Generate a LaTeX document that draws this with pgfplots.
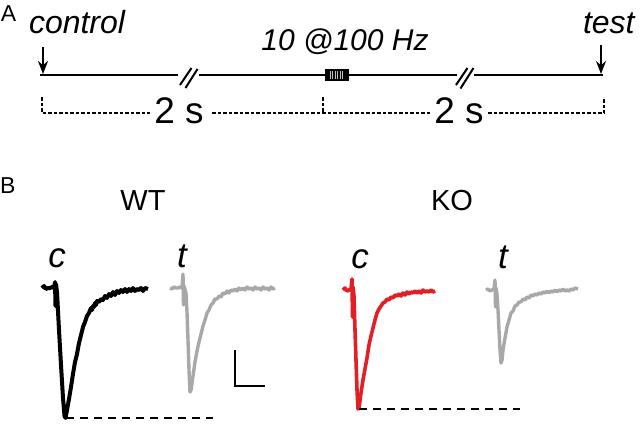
\documentclass[border=0pt]{standalone}
\usepackage{pgfplots}
\pgfplotsset{compat=1.18}
\usepackage{fontspec}
\setmainfont{Liberation Sans}
\usetikzlibrary{arrows.meta}
\definecolor{kored}{RGB}{228,30,38}
\definecolor{tgray}{RGB}{168,168,168}
\tikzset{lbl/.style={inner sep=0pt, outer sep=0pt}}
\begin{document}
\begin{tikzpicture}
\begin{axis}[
  width=640pt, height=424pt, scale only axis,
  xmin=0, xmax=640, ymin=0, ymax=424, y dir=reverse,
  hide axis, clip=false,
]
% invisible frame for bounding box
\addplot[draw=none] coordinates {(0,0) (640,424)};

% ---------------- Panel A ----------------
\node[lbl, anchor=base west, font=\fontsize{23}{26}\selectfont] at (axis cs:1,21) {A};
\node[lbl, anchor=base west, font=\fontsize{32}{34}\selectfont\itshape] at (axis cs:29,33) {control};
\node[lbl, anchor=base, font=\fontsize{30}{32}\selectfont\itshape] at (axis cs:345,50) {10 @100 Hz};
\node[lbl, anchor=base west, font=\fontsize{32}{34}\selectfont\itshape] at (axis cs:583,33) {test};

% arrows
\addplot[black, line width=1.8pt, -{Stealth[length=13pt,width=10pt]}] coordinates {(43,47) (43,74)};
\addplot[black, line width=1.8pt, -{Stealth[length=13pt,width=10pt]}] coordinates {(601,45) (601,74)};

% timeline
\addplot[black, line width=2pt] coordinates {(40,75) (178,75)};
\addplot[black, line width=2pt] coordinates {(180,85) (191.5,68)};
\addplot[black, line width=2pt] coordinates {(185.5,88) (197.5,69)};
\addplot[black, line width=2pt] coordinates {(199,75) (325,75)};
\addplot[black, line width=2pt] coordinates {(348,75) (457,75)};
\addplot[black, line width=2pt] coordinates {(456,85) (467.5,68)};
\addplot[black, line width=2pt] coordinates {(460.5,88.5) (473.5,68)};
\addplot[black, line width=2pt] coordinates {(474,75) (603,75)};

% stimulus train block
\addplot[fill=black, draw=black, line width=0.6pt] coordinates {(325,69.5) (348,69.5) (348,80.5) (325,80.5)} -- cycle;
\addplot[gray!50, line width=0.4pt] coordinates {(330,71) (330,79)};
\addplot[gray!50, line width=0.4pt] coordinates {(332.5,71) (332.5,79)};
\addplot[gray!50, line width=0.4pt] coordinates {(335,71) (335,79)};
\addplot[gray!50, line width=0.4pt] coordinates {(337.5,71) (337.5,79)};
\addplot[gray!50, line width=0.4pt] coordinates {(340,71) (340,79)};
\addplot[gray!50, line width=0.4pt] coordinates {(342.5,71) (342.5,79)};

% dashed brackets
\addplot[black, line width=1.5pt, dash pattern=on 3.5pt off 2pt] coordinates {(42,97) (42,113) (150,113)};
\addplot[black, line width=1.5pt, dash pattern=on 3.5pt off 2pt] coordinates {(212,113) (430,113)};
\addplot[black, line width=1.5pt, dash pattern=on 3.5pt off 2pt] coordinates {(323,97) (323,113)};
\addplot[black, line width=1.5pt, dash pattern=on 3.5pt off 2pt] coordinates {(488,113) (604,113) (604,97)};
\node[lbl, anchor=base, font=\fontsize{37}{40}\selectfont] at (axis cs:179,123) {2 s};
\node[lbl, anchor=base, font=\fontsize{37}{40}\selectfont] at (axis cs:459,123) {2 s};

% ---------------- Panel B ----------------
\node[lbl, anchor=base west, font=\fontsize{23}{26}\selectfont] at (axis cs:0,193) {B};
\node[lbl, anchor=base, font=\fontsize{29}{31}\selectfont] at (axis cs:143,210) {WT};
\node[lbl, anchor=base, font=\fontsize{29}{31}\selectfont] at (axis cs:452,210) {KO};
\node[lbl, anchor=base, font=\fontsize{35}{37}\selectfont\itshape] at (axis cs:57,267) {c};
\node[lbl, anchor=base, font=\fontsize{35}{37}\selectfont\itshape] at (axis cs:182,267) {t};
\node[lbl, anchor=base, font=\fontsize{35}{37}\selectfont\itshape] at (axis cs:360,268) {c};
\node[lbl, anchor=base, font=\fontsize{35}{37}\selectfont\itshape] at (axis cs:503,268) {t};

% WT control (black)
\addplot[black, line width=4pt, line join=round] coordinates {
(42,288) (44,286) (46,289) (48,288) (50,288) (52,287) (54,288)
(55,282) (55.5,306) (56,284) (57,292) (59,330) (61,365) (63,398) (64.5,416) (65.5,418)
(67,410) (69,399) (71,387) (73,374) (75,362) (77,354) (79,343) (81,335) (83,327)
(85,322) (87,316) (89,313) (91,308) (92,310) (93,306) (94,307) (95,303) (96,305)
(97,301) (99,302) (101,299) (103,300) (105,296) (107,298) (109,294) (111,296)
(113,292) (115,295) (117,291) (119,293) (121,290) (123,292) (125,289) (127,292)
(129,289) (131,291) (133,288) (135,291) (137,289) (139,290) (141,288) (143,291) (145,288) (148,289)};

% WT test (gray)
\addplot[tgray, line width=3.4pt, line join=round] coordinates {
(170,288) (172,289) (174,287) (176,288) (178,288) (180,287) (182,288)
(183,274) (183.5,305) (184,286) (186,293) (187,312) (188,340) (189,370) (190,392)
(191,390) (193,376) (195,362) (197,351) (199,342) (201,334) (203,326) (205,320)
(207,313) (209,310) (211,305) (213,303) (215,299) (217,299) (219,296) (221,297)
(223,293) (225,294) (227,291) (229,293) (231,290) (233,291) (235,289) (237,291)
(239,288) (241,290) (243,288) (245,290) (247,287) (249,289) (251,288) (253,290)
(255,287) (257,289) (259,288) (261,290) (263,287) (265,289) (267,288) (269,290) (271,287) (273,289) (275,288)};

% scale bar
\addplot[black, line width=2pt] coordinates {(235,350) (235,386) (265,386)};

% WT dashed reference
\addplot[black, line width=1.8pt, dash pattern=on 8pt off 6pt] coordinates {(66,418) (213,418)};

% KO control (red)
\addplot[kored, line width=3.6pt, line join=round] coordinates {
(343,290) (345,288) (347,291) (349,290) (351,289)
(352,279) (352.5,317) (353,287) (354,296) (355,330) (356,360) (357,390) (358,409)
(359,408) (361,393) (363,380) (365,369) (367,358) (369,345) (371,336) (373,328)
(375,320) (377,313) (379,309) (381,306) (383,303) (385,302) (387,299) (389,300)
(391,297) (393,298) (395,295) (397,296) (399,294) (401,296) (403,293) (405,295)
(407,292) (409,294) (411,292) (413,293) (415,291) (417,293) (419,291) (421,293)
(423,290) (425,292) (427,291) (429,292) (431,290) (433,292) (435,291)};

% KO test (gray)
\addplot[tgray, line width=3.4pt, line join=round] coordinates {
(486,290) (488,289) (490,291) (492,290) (494,289)
(495,280) (495.5,307) (496,288) (497,294) (498,310) (499,330) (500,350) (501,363)
(502,360) (503,350) (505,338) (507,327) (509,320) (511,313) (513,311) (515,306)
(517,305) (519,302) (521,302) (523,299) (525,300) (527,297) (529,298) (531,295)
(533,296) (535,294) (537,295) (539,293) (541,294) (543,292) (545,293) (547,291)
(549,293) (551,291) (553,292) (555,290) (557,292) (559,290) (561,291) (563,289)
(565,291) (567,290) (569,291) (571,289) (573,290) (575,288) (578,289)};

% KO dashed reference
\addplot[black, line width=1.8pt, dash pattern=on 8pt off 6pt] coordinates {(359,409) (520,409)};

\end{axis}
\end{tikzpicture}
\end{document}
